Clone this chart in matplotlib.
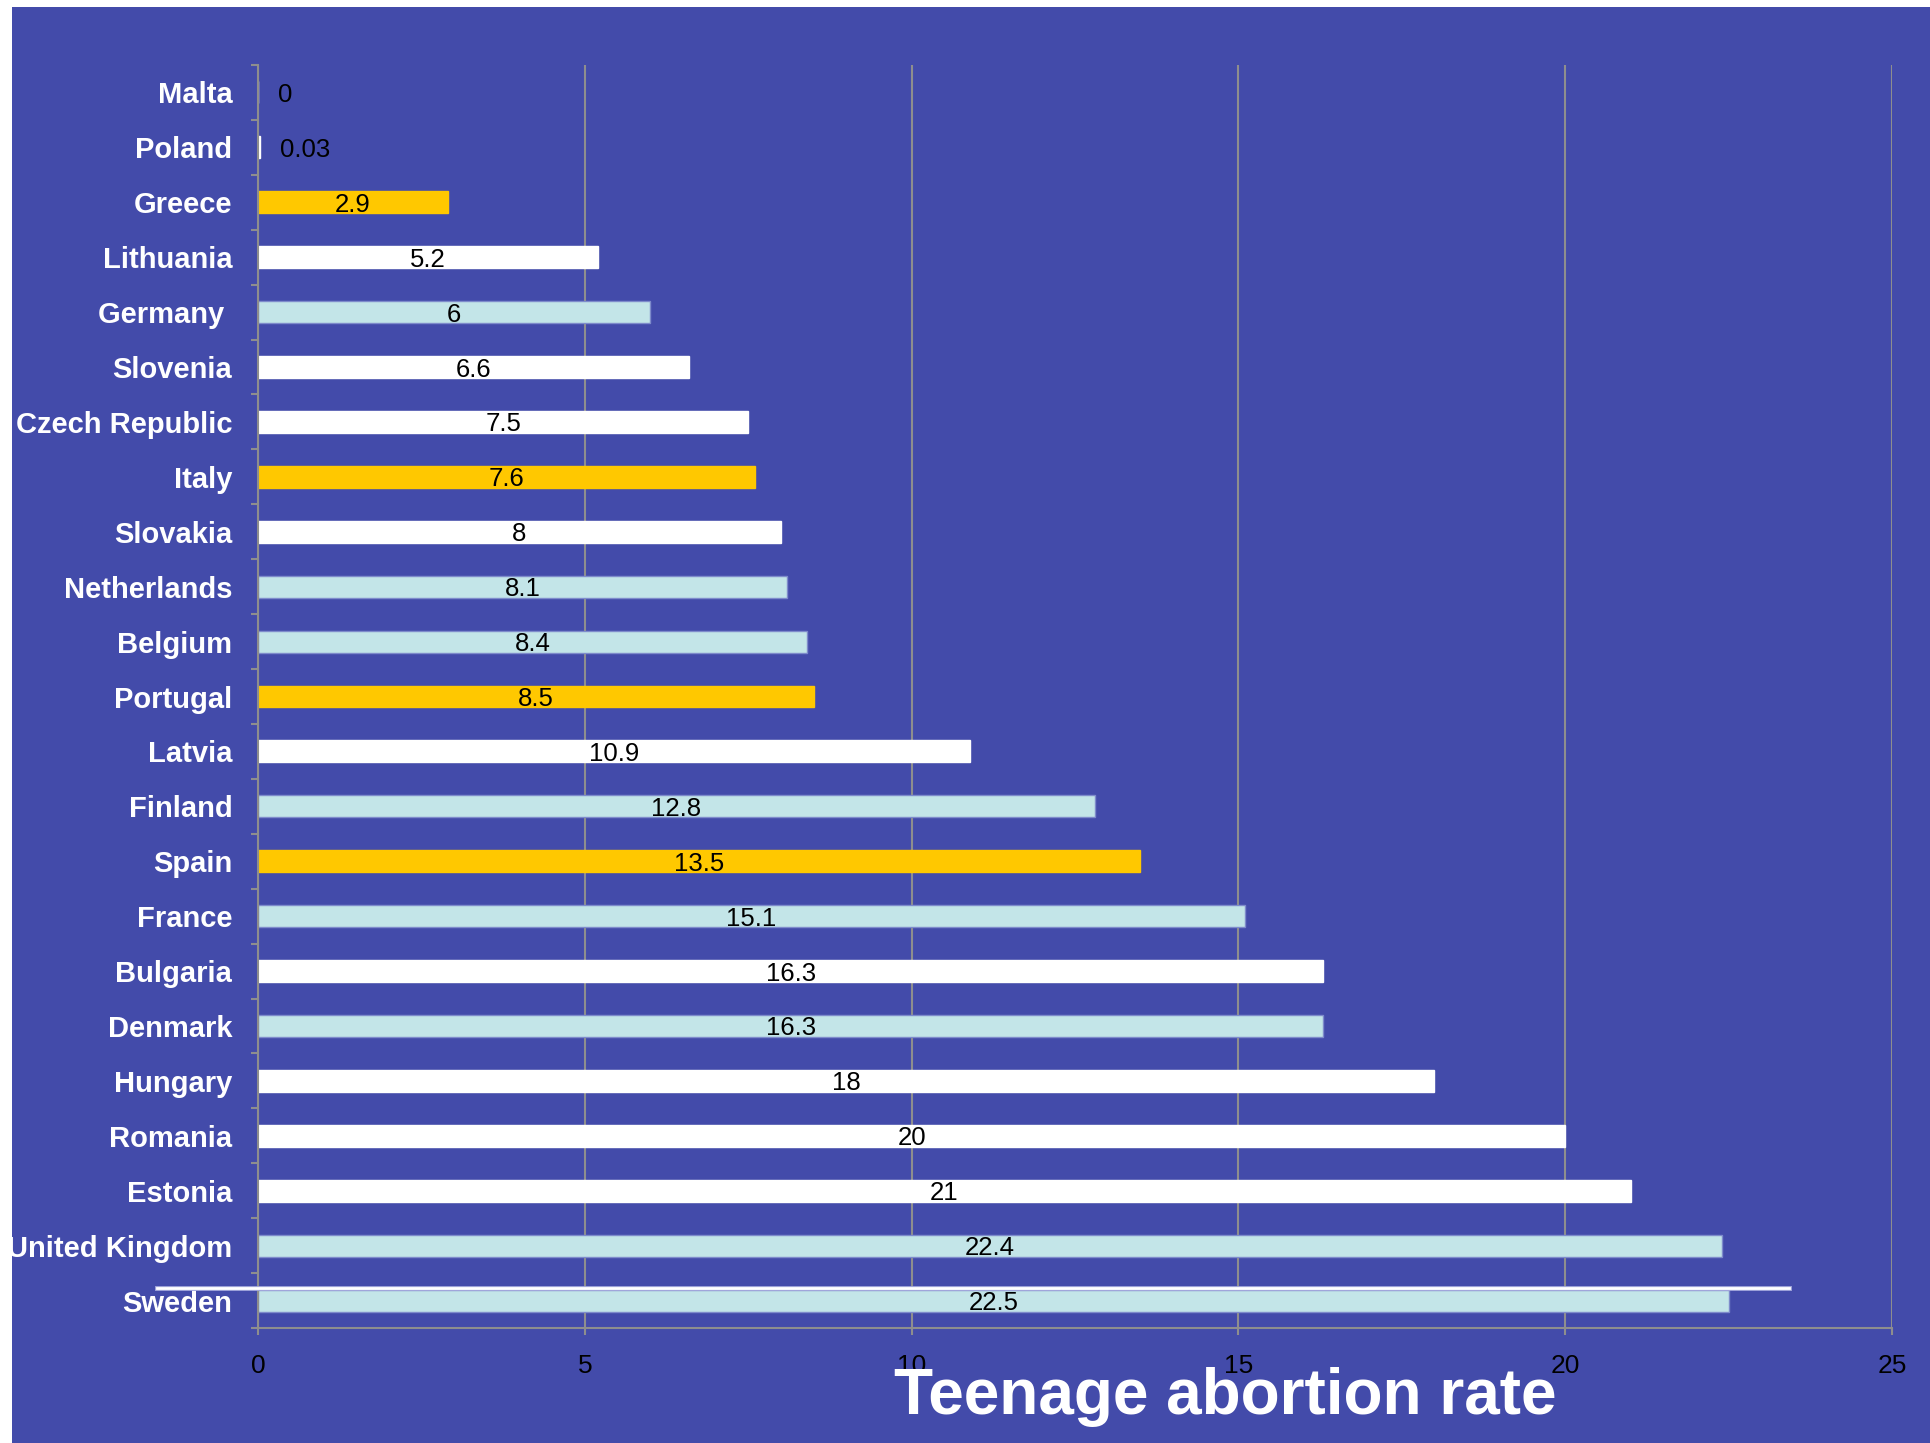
import numpy as np
import matplotlib.pyplot as plt
from matplotlib.patches import Rectangle
import matplotlib.patheffects as pe

plt.rcParams['font.family'] = ['Liberation Sans', 'DejaVu Sans']

countries = ['Malta', 'Poland', 'Greece', 'Lithuania', 'Germany ', 'Slovenia',
             'Czech Republic', 'Italy', 'Slovakia', 'Netherlands', 'Belgium',
             'Portugal', 'Latvia', 'Finland', 'Spain', 'France', 'Bulgaria',
             'Denmark', 'Hungary', 'Romania', 'Estonia', 'United Kingdom', 'Sweden']
rates = [0, 0.03, 2.9, 5.2, 6, 6.6, 7.5, 7.6, 8, 8.1, 8.4, 8.5, 10.9, 12.8,
         13.5, 15.1, 16.3, 16.3, 18, 20, 21, 22.4, 22.5]
groups = ['east', 'east', 'south', 'east', 'west', 'east', 'east', 'south',
          'east', 'west', 'west', 'south', 'east', 'west', 'south', 'west',
          'east', 'west', 'east', 'east', 'east', 'west', 'west']
xticks = [0, 5, 10, 15, 20, 25]

bg = '#434BAA'
group_colors = {'south': '#FFC800', 'west': '#C3E5E8', 'east': '#FFFFFF'}
grid_gray = '#8E8E8E'

fig = plt.figure(figsize=(19.3, 14.43), dpi=100, facecolor='white')
fig.patches.append(Rectangle((12 / 1930, 0), 1 - 12 / 1930, 1 - 7 / 1443,
                             transform=fig.transFigure, facecolor=bg,
                             edgecolor='none', zorder=-10))

ax = fig.add_axes([258 / 1930, 115 / 1443, (1892 - 258) / 1930, (1378 - 115) / 1443])
ax.set_facecolor(bg)

y = np.arange(len(countries))
colors = [group_colors[g] for g in groups]
edges = ['#7E8BCB' if g == 'west' else c for g, c in zip(groups, colors)]
ax.barh(y, rates, height=0.4, color=colors, edgecolor=edges, linewidth=1, zorder=3)

for yi, v in zip(y, rates):
    if v < 1:
        ax.text(v + 0.3, yi, f'{v:g}', ha='left', va='center_baseline',
                fontsize=18.5, color='black', zorder=4)
    else:
        ax.text(v / 2, yi, f'{v:g}', ha='center', va='center_baseline',
                fontsize=18.5, color='black', zorder=4)

ax.set_xlim(0, 25)
ax.set_ylim(len(countries) - 0.5, -0.5)
ax.set_xticks(xticks)
ax.set_xticklabels([str(t) for t in xticks])
ax.set_yticks(y)
ax.set_yticklabels(countries, fontsize=21, fontweight='bold', color='white')
for lbl in ax.get_yticklabels():
    lbl.set_verticalalignment('center_baseline')
ax.set_yticks(np.arange(len(countries) + 1) - 0.5, minor=True)

ax.tick_params(axis='y', which='major', length=0, pad=18.5)
ax.tick_params(axis='y', which='minor', length=5, width=1.5, color=grid_gray,
               direction='out')
ax.tick_params(axis='x', which='major', length=5, width=1.5, color=grid_gray,
               labelsize=19, labelcolor='black', pad=14)

ax.grid(axis='x', color=grid_gray, linewidth=1.5, zorder=1)
ax.set_axisbelow(True)
for side in ['top', 'right']:
    ax.spines[side].set_visible(False)
for side in ['left', 'bottom']:
    ax.spines[side].set_color(grid_gray)
    ax.spines[side].set_linewidth(1.5)
    ax.spines[side].set_zorder(5)

# stray separator line above the last bar
ax.plot([-1.55, 23.42], [21.78, 21.78], color='white', linewidth=2,
        clip_on=False, zorder=6,
        path_effects=[pe.Stroke(linewidth=3.5, foreground='#A3A8DC'), pe.Normal()])

fig.text(1225 / 1930, 29 / 1443, 'Teenage abortion rate', ha='center',
         va='baseline', fontsize=46, fontweight='bold', color='white')

fig.savefig('out.png', dpi=100, facecolor=fig.get_facecolor())
